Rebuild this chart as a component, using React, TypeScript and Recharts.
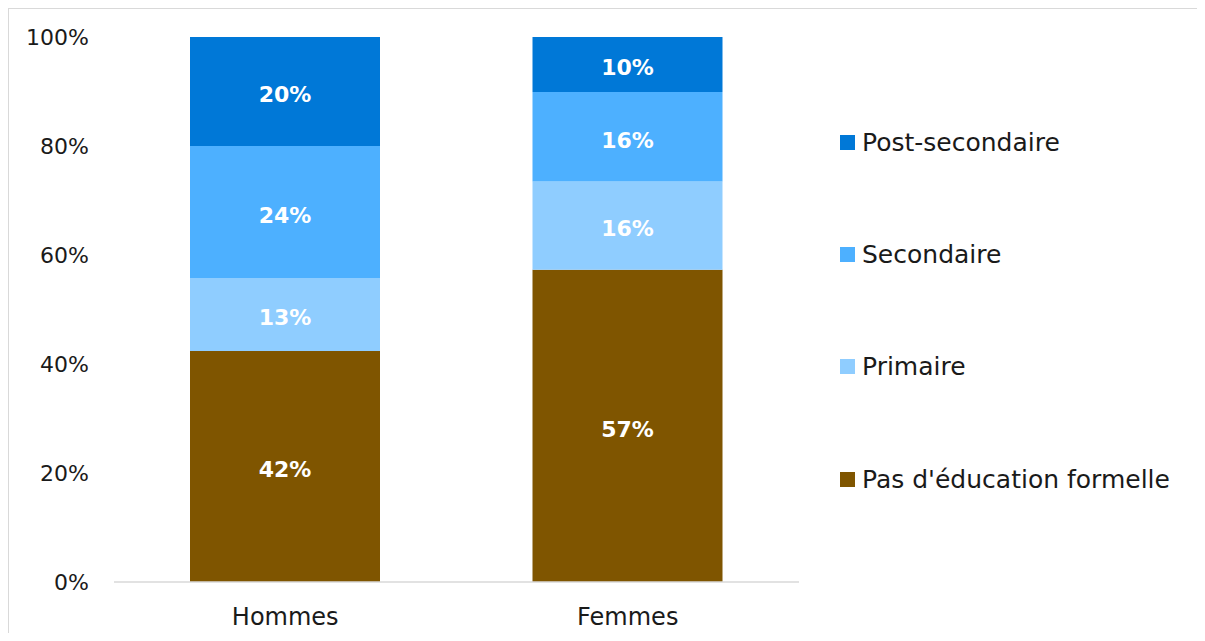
import { BarChart, Bar, XAxis, YAxis, Legend, LabelList } from 'recharts'

const categories = ['Hommes', 'Femmes']
const pasEducation = [42.4, 57.3]
const primaire = [13.4, 16.2]
const secondaire = [24.2, 16.4]
const postSecondaire = [20.0, 10.1]
const yTicks = [0, 0.2, 0.4, 0.6, 0.8, 1]

const SERIES = [
  { key: 'pas', name: "Pas d'éducation formelle", color: '#7F5500' },
  { key: 'primaire', name: 'Primaire', color: '#8FCDFF' },
  { key: 'secondaire', name: 'Secondaire', color: '#4DB0FF' },
  { key: 'post', name: 'Post-secondaire', color: '#0078D7' },
]

const FONT = '"DejaVu Sans", sans-serif'

const data = categories.map((name, i) => ({
  name,
  pas: pasEducation[i],
  primaire: primaire[i],
  secondaire: secondaire[i],
  post: postSecondaire[i],
}))

function LegendContent() {
  const items = [...SERIES].reverse()
  return (
    <div style={{ fontFamily: FONT }}>
      {items.map((s) => (
        <div key={s.key} style={{ height: 112.3, display: 'flex', alignItems: 'center' }}>
          <span style={{ width: 15, height: 15, background: s.color, display: 'inline-block', marginRight: 7 }} />
          <span style={{ fontSize: 25, color: '#1a1a1a' }}>{s.name}</span>
        </div>
      ))}
    </div>
  )
}

export default function App() {
  // clip so the page never overflows the window (no scrollbar)
  return (
    <div style={{ height: 625, overflow: 'hidden' }}>
      <div
        style={{
          width: 1196,
          height: 632,
          borderTop: '1px solid #d9d9d9',
          borderLeft: '1px solid #d9d9d9',
          background: '#fff',
        }}
      >
        <BarChart
          width={1196}
          height={632}
          data={data}
          stackOffset="expand"
          margin={{ top: 28, right: 406, left: 0, bottom: 0 }}
        >
          <XAxis
            dataKey="name"
            height={59}
            tickLine={false}
            axisLine={{ stroke: '#d9d9d9', strokeWidth: 1.5 }}
            tickMargin={20}
            tick={{ fontSize: 24, fill: '#1a1a1a', fontFamily: FONT }}
          />
          <YAxis
            width={105}
            ticks={yTicks}
            domain={[0, 1]}
            axisLine={false}
            tickLine={false}
            tickMargin={19}
            tickFormatter={(v: number) => `${Math.round(v * 100)}%`}
            tick={{ fontSize: 22, fill: '#1a1a1a', fontFamily: FONT }}
          />
          <Legend
            layout="vertical"
            align="center"
            verticalAlign="middle"
            wrapperStyle={{ left: 831, top: 77, width: 360 }}
            content={<LegendContent />}
          />
          {SERIES.map((s) => (
            <Bar key={s.key} dataKey={s.key} name={s.name} stackId="a" fill={s.color} barSize={190} isAnimationActive={false}>
              <LabelList
                dataKey={s.key}
                position="center"
                dy={3}
                formatter={(v: number) => `${Math.round(v)}%`}
                style={{ fill: '#fff', fontSize: 22, fontWeight: 'bold', fontFamily: FONT }}
              />
            </Bar>
          ))}
        </BarChart>
      </div>
    </div>
  )
}
